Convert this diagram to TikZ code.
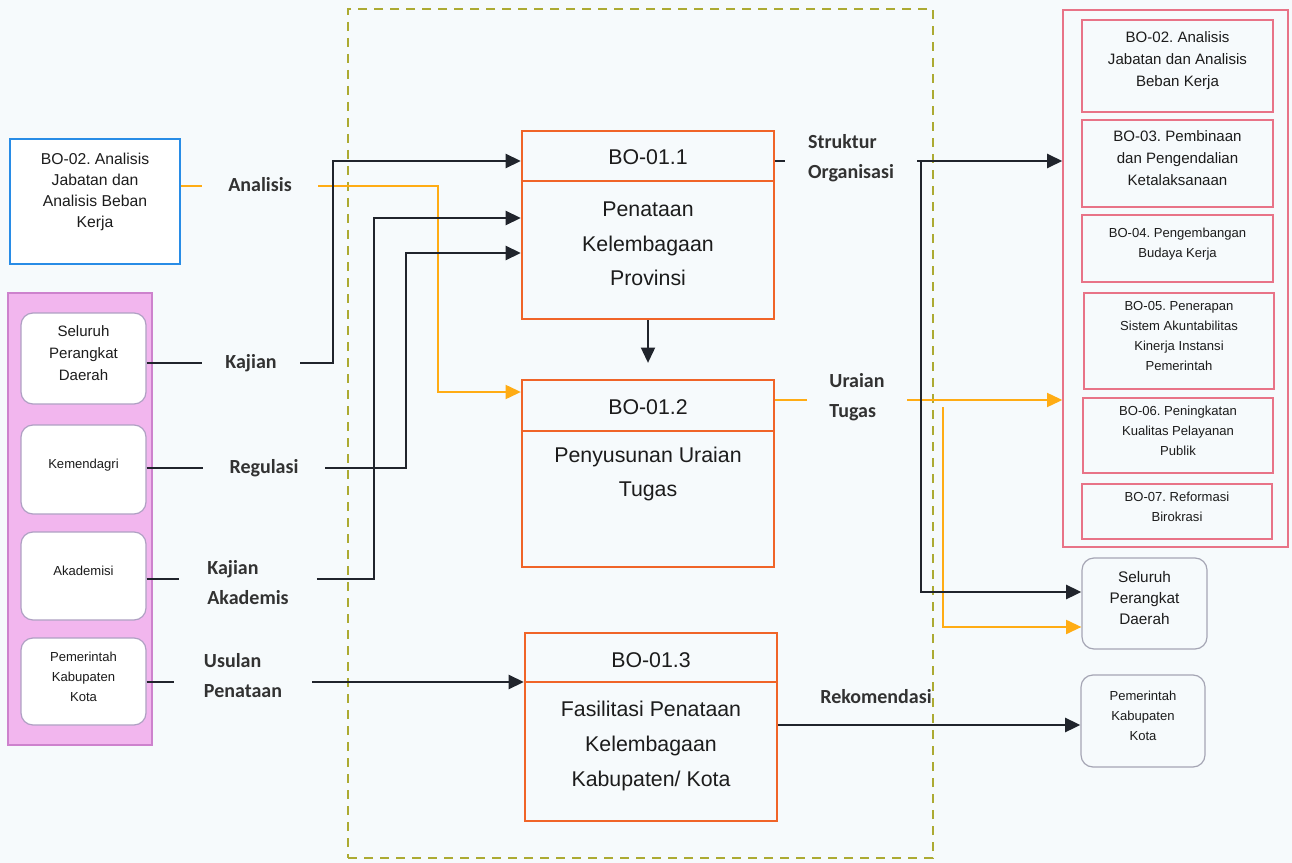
\documentclass[tikz,border=0pt]{standalone}
\usepackage{fontspec}
\setmainfont{Liberation Sans}
\newfontfamily\lblfont{Carlito}
\usetikzlibrary{arrows.meta,fit}
\frenchspacing
\definecolor{bgc}{RGB}{246,250,252}
\definecolor{orgb}{RGB}{240,100,40}
\definecolor{amber}{RGB}{255,172,20}
\definecolor{ink}{RGB}{32,36,44}
\definecolor{bluec}{RGB}{40,140,230}
\definecolor{pinkf}{RGB}{242,182,238}
\definecolor{pinkd}{RGB}{205,130,205}
\definecolor{lavb}{RGB}{175,160,195}
\definecolor{redp}{RGB}{232,115,135}
\definecolor{grayb}{RGB}{165,165,180}
\definecolor{olivec}{RGB}{172,170,50}
\definecolor{txt}{RGB}{28,28,28}
\definecolor{lblc}{RGB}{50,50,50}
\tikzset{
  cbox/.style={draw=orgb, line width=1.7pt, inner sep=0pt, fit={#1}},
  ctext/.style={font=\fontsize{16}{26}\selectfont, text=txt, align=center, inner sep=0pt},
  lab/.style={font=\lblfont\bfseries\fontsize{15}{22.5}\selectfont, text=lblc, align=left, inner sep=0pt, minimum height=20pt},
  lbox/.style={draw=lavb, line width=0.9pt, fill=white, rounded corners=9pt, inner sep=0pt, text=txt, align=center, fit={#1}},
  rbox/.style={draw=redp, line width=0.9pt, inner sep=0pt, text=txt, align=center, fit={#1}},
  gbox/.style={draw=grayb, line width=0.9pt, rounded corners=9pt, inner sep=0pt, text=txt, align=center, fit={#1}},
  midf/.style={font=\fontsize{11.3}{16.5}\selectfont},
  smallf/.style={font=\fontsize{9.8}{15}\selectfont},
  blk/.style={draw=ink, line width=2pt},
  org/.style={draw=amber, line width=1.6pt},
  arr/.style={-{Triangle[length=11.5pt,width=10.5pt]}},
}
\begin{document}
\begin{tikzpicture}[x=0.75pt,y=-0.75pt]
\fill[bgc] (0,0) rectangle (1292,863);
\useasboundingbox (0,0) rectangle (1292,863);

% dashed frame
\node[draw=olivec, dash pattern=on 7pt off 5pt, line width=1.3pt, inner sep=0pt, fit={(348,9)(933,858)}] (frame) {};

% left side
\node[draw=bluec, line width=1.5pt, fill=white, inner sep=0pt, fit={(10,139)(180,264)}] (blue) {};
\node[font=\fontsize{11.8}{15.75}\selectfont, text=txt, align=center, inner sep=0pt] (blueT) at (95,192) {BO-02. Analisis\\Jabatan dan\\Analisis Beban\\Kerja};

\node[fill=pinkf, draw=pinkd, line width=1pt, inner sep=0pt, fit={(8,293)(152,745)}] (LP) {};
\node[lbox={(21,313)(146,404)}, midf] (L1) {Seluruh\\Perangkat\\Daerah};
\node[lbox={(21,425)(146,514)}, smallf] (L2) {Kemendagri};
\node[lbox={(21,532)(146,620)}, smallf] (L3) {Akademisi};
\node[lbox={(21,638)(146,725)}, smallf] (L4) {Pemerintah\\Kabupaten\\Kota};

% labels
\node[lab, minimum width=87pt] (lAna) at (260,185) {Analisis};
\node[lab, minimum width=73.5pt] (lKaj) at (251,363) {Kajian};
\node[lab, minimum width=91.5pt] (lReg) at (264,468) {Regulasi};
\node[lab, minimum width=102.75pt] (lKA) at (248,583) {Kajian\\Akademis};
\node[lab, minimum width=103.5pt] (lUP) at (243,676) {Usulan\\Penataan};
\node[lab, minimum width=99pt] (lSO) at (851,158) {Struktur\\Organisasi};
\node[lab, minimum width=75pt] (lUT) at (857,397) {Uraian\\Tugas};
\node[lab] (lRek) at (876,697) {Rekomendasi};

% central boxes
\node[cbox={(522,131)(774,319)}] (b1) {};
\draw[orgb, line width=1.7pt] (b1.west |- 0,181) -- (b1.east |- 0,181);
\node[ctext] (b1h) at (648,157) {BO-01.1};
\node[ctext] (b1t) at (648,244) {Penataan\\Kelembagaan\\Provinsi};

\node[cbox={(522,380)(774,567)}] (b2) {};
\draw[orgb, line width=1.7pt] (b2.west |- 0,431) -- (b2.east |- 0,431);
\node[ctext] (b2h) at (648,407) {BO-01.2};
\node[ctext] (b2t) at (648,474) {Penyusunan Uraian\\Tugas};

\node[cbox={(525,633)(777,821)}] (b3) {};
\draw[orgb, line width=1.7pt] (b3.west |- 0,682) -- (b3.east |- 0,682);
\node[ctext] (b3h) at (651,660) {BO-01.3};
\node[ctext] (b3t) at (651,746) {Fasilitasi Penataan\\Kelembagaan\\Kabupaten/ Kota};

% right side
\node[draw=redp, line width=1pt, inner sep=0pt, fit={(1063,10)(1288,547)}] (RP) {};
\node[rbox={(1082,20)(1273,112)}, midf] (rb2) {BO-02. Analisis\\Jabatan dan Analisis\\Beban Kerja};
\node[rbox={(1082,120)(1273,207)}, midf] (rb3) {BO-03. Pembinaan\\dan Pengendalian\\Ketalaksanaan};
\node[rbox={(1082,215)(1273,282)}, smallf] (rb4) {BO-04. Pengembangan\\Budaya Kerja};
\node[rbox={(1084,293)(1274,389)}, smallf] (rb5) {BO-05. Penerapan\\Sistem Akuntabilitas\\Kinerja Instansi\\Pemerintah};
\node[rbox={(1083,398)(1273,473)}, smallf] (rb6) {BO-06. Peningkatan\\Kualitas Pelayanan\\Publik};
\node[rbox={(1082,484)(1272,539)}, smallf] (rb7) {BO-07. Reformasi\\Birokrasi};

\node[gbox={(1082,558)(1207,649)}, font=\fontsize{11.5}{16}\selectfont] (R1) {Seluruh\\Perangkat\\Daerah};
\node[gbox={(1081,675)(1205,767)}, smallf] (R2) {Pemerintah\\Kabupaten\\Kota};

% orange connectors
\draw[org] (blue.east |- 0,186) -- (lAna.west |- 0,186);
\draw[org, arr] (lAna.east |- 0,186) -| (438,392) -- (b2.west |- 0,392);
\draw[org] (b2.east |- 0,400) -- (lUT.west |- 0,400);
\draw[org, arr] (lUT.east |- 0,400) -- (RP.west |- 0,400);
\coordinate (uj) at (943,407);
\draw[org, arr] (uj) |- (R1.west |- 0,627);

% black connectors
\draw[blk] (L1.east |- 0,363) -- (lKaj.west |- 0,363);
\draw[blk, arr] (lKaj.east |- 0,363) -| (333,161) -- (b1.west |- 0,161);
\draw[blk] (L2.east |- 0,468) -- (lReg.west |- 0,468);
\draw[blk, arr] (lReg.east |- 0,468) -| (406,253) -- (b1.west |- 0,253);
\draw[blk] (L3.east |- 0,579) -- (lKA.west |- 0,579);
\draw[blk, arr] (lKA.east |- 0,579) -| (374,218) -- (b1.west |- 0,218);
\draw[blk] (L4.east |- 0,682) -- (lUP.west |- 0,682);
\draw[blk, arr] (lUP.east |- 0,682) -- (b3.west |- 0,682);
\draw[blk, line width=1.5pt, arr, shorten >=12pt] (b1.south) -- (b2.north);
\draw[blk] (b1.east |- 0,161) -- (lSO.west |- 0,161);
\draw[blk, arr] (lSO.east |- 0,161) -- (RP.west |- 0,161);
\coordinate (sj) at (921,161);
\draw[blk, arr] (sj) |- (R1.west |- 0,592);
\draw[blk, arr] (b3.east |- 0,725) -- (R2.west |- 0,725);
\end{tikzpicture}
\end{document}
